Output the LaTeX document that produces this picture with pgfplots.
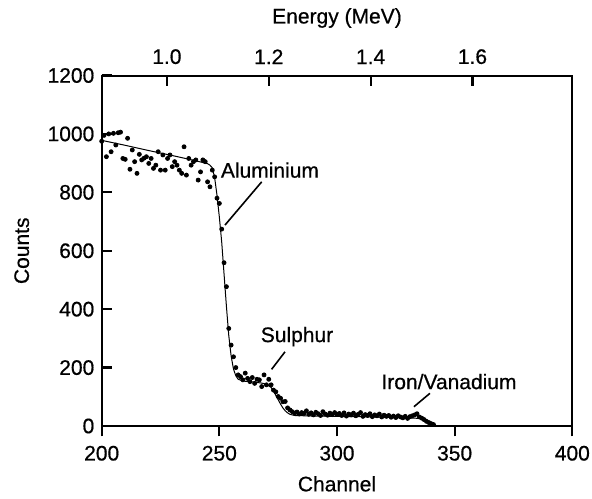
\documentclass[border=0pt]{standalone}
\usepackage{fontspec}
\setmainfont{Liberation Sans}[FakeBold=0.6]
\usepackage{pgfplots}
\pgfplotsset{compat=1.18}

\pgfplotstableread{
ch counts
200 975
201 995
202 922
203 1000
204 939
205 1002
206 962
207 1004
208 1006
209 916
210 913
211 985
212 879
213 945
214 905
215 865
216 930
217 911
218 917
219 922
220 899
221 916
222 882
223 893
224 939
225 876
226 928
227 876
228 916
229 928
230 888
231 905
232 893
233 876
234 865
235 956
236 859
237 916
238 893
239 905
240 911
241 842
242 870
243 911
244 905
245 836
246 819
247 876
248 853
249 780
250 762
251 674
252 559
253 477
254 334
255 277
256 237
257 200
258 175
259 169
260 158
261 181
262 163
263 152
264 166
265 146
266 160
267 158
268 135
269 175
270 141
271 160
272 141
273 123
274 117
275 101
276 95
277 83
278 84
279 62
280 55
281 49
282 44
283 48
284 41
285 46
286 43
287 52
288 40
289 45
290 38
291 47
292 42
293 36
294 49
295 41
296 37
297 44
298 39
299 46
300 40
301 43
302 36
303 45
304 34
305 41
306 38
307 44
308 35
309 40
310 46
311 33
312 39
313 36
314 42
315 32
316 38
317 35
318 41
319 31
320 37
321 33
322 36
323 30
324 34
325 29
326 35
327 31
328 28
329 33
330 26
331 32
332 35
333 38
334 42
335 31
336 27
337 22
338 16
339 12
340 8
341 5
}\spectrum

\pgfplotstableread{
ch counts
200 978
210 961
220 943
230 926
240 908
245 898
246 893
247 884
248 850
249 790
250 715
251 630
252 520
253 410
254 310
255 240
256 195
257 172
258 160
260 154
265 150
268 147
270 143
272 132
273 120
274 105
275 90
276 75
277 62
278 52
279 45
280 40
282 36
290 34
300 33
310 32
320 30
330 28
335 26
337 22
339 14
341 6
342 2
}\fit

\begin{document}
\fontsize{10.5}{12.5}\selectfont
\begin{tikzpicture}
\begin{axis}[
  width=235.3pt, height=175.25pt, scale only axis,
  /pgf/number format/assume math mode=true,
  /pgf/number format/1000 sep={},
  xmin=200, xmax=400, ymin=0, ymax=1200,
  xtick={200,250,...,400}, ytick={0,200,...,1200},
  xtick pos=bottom, ytick pos=left,
  xtick align=outside, ytick align=inside,
  major tick length=5.2pt,
  tick style={black, line width=1.1pt},
  xlabel={Channel}, ylabel={Counts},
  xticklabel style={yshift=-1pt},
  xlabel style={at={(axis description cs:0.5,-0.165)}, anchor=center},
  ylabel style={at={(axis description cs:-0.17,0.5)}, anchor=center},
]
\addplot[black, line width=0.5pt] table[x=ch, y=counts] {\fit};
\addplot[only marks, mark=*, mark size=1pt, black] table[x=ch, y=counts] {\spectrum};
\node at (axis cs:271.5,876) {Aluminium};
\draw[line width=0.8pt] (axis cs:268,836) -- (axis cs:252.4,688);
\node at (axis cs:283,306) {Sulphur};
\draw[line width=0.8pt] (axis cs:277.9,254) -- (axis cs:272.2,194);
\node at (axis cs:347.6,152) {Iron/Vanadium};
\draw[line width=0.8pt] (axis cs:339.5,112) -- (axis cs:332.7,66);
\draw[line width=1.1pt] (rel axis cs:0,0) rectangle (rel axis cs:1,1);
\end{axis}
\begin{axis}[
  width=235.3pt, height=175.25pt, scale only axis,
  /pgf/number format/assume math mode=true,
  xmin=0.872, xmax=1.796, ymin=0, ymax=1,
  axis x line*=top, axis y line=none,
  xtick={1.0,1.2,1.4,1.6},
  xticklabel style={/pgf/number format/fixed, /pgf/number format/fixed zerofill, /pgf/number format/precision=1, yshift=2pt},
  tick align=inside,
  major tick length=5.2pt,
  tick style={black, line width=1.1pt},
  xlabel={Energy (MeV)},
  xlabel style={at={(axis description cs:0.5,1.164)}, anchor=center},
]
\end{axis}
\pgfresetboundingbox
\path[use as bounding box] (-50.85pt,-36pt) rectangle (245.15pt,213pt);
\end{tikzpicture}
\end{document}
